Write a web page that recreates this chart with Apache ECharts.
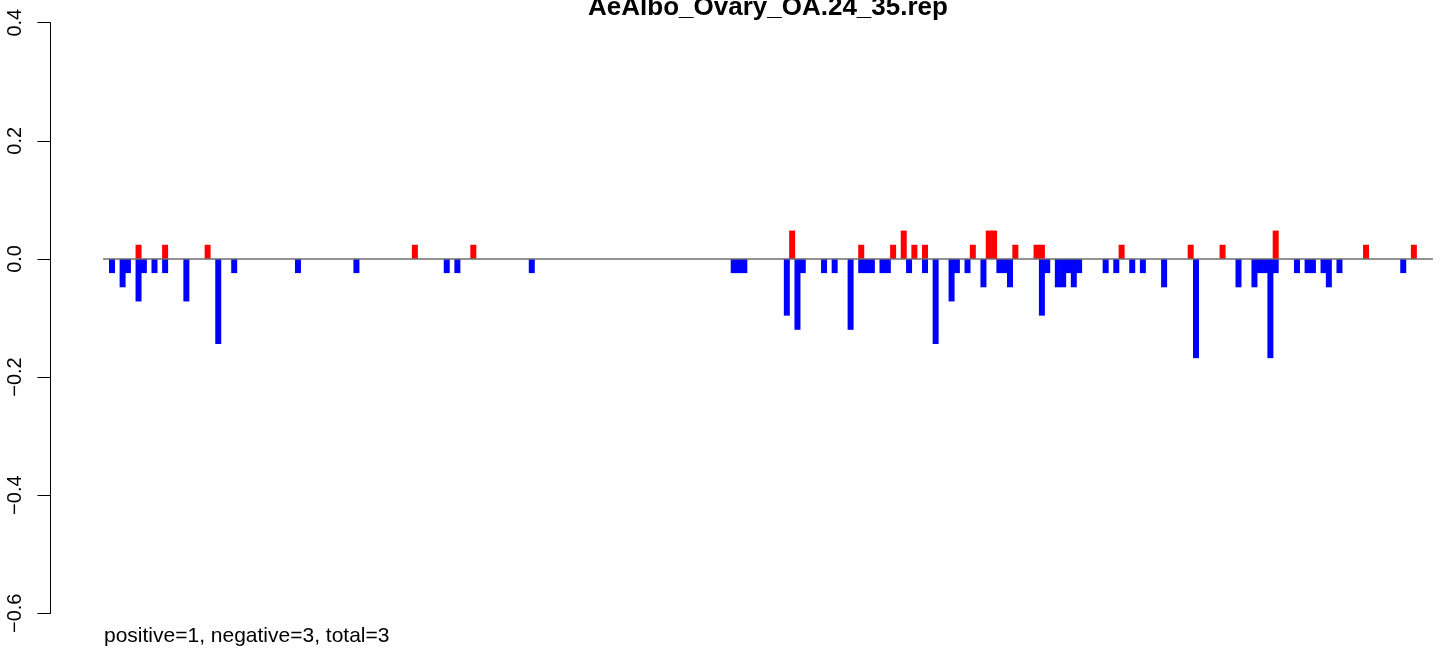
<!DOCTYPE html>
<html>
<head>
<meta charset="utf-8">
<script src="https://cdn.jsdelivr.net/npm/echarts@6/dist/echarts.min.js"></script>
<style>
html,body{margin:0;padding:0;background:#fff;}
#chart{width:1441px;height:649px;}
</style>
</head>
<body>
<div id="chart"></div>
<script>
// ---- data ----
var chartTitle = 'AeAlbo_Ovary_OA.24_35.rep';
var footnote = 'positive=1, negative=3, total=3';

var posPositions = [6, 11, 19, 58, 69, 129, 142, 148, 150, 152, 154, 163, 166, 167, 171, 175, 176, 191, 204, 210, 220, 237, 246];
var posValues    = [0.024, 0.024, 0.024, 0.024, 0.024, 0.048, 0.024, 0.024, 0.048, 0.024, 0.024, 0.024, 0.048, 0.048, 0.024, 0.024, 0.024, 0.024, 0.024, 0.024, 0.048, 0.024, 0.024];

var negPositions = [1, 3, 4, 6, 7, 9, 11, 15, 21, 24, 36, 47, 64, 66, 80,
  118, 119, 120, 128, 130, 131, 135, 137, 140, 142, 143, 144, 146, 147, 151, 154, 156,
  159, 160, 162, 165, 168, 169, 170, 176, 177, 179, 180, 181, 182, 183, 188, 190, 193, 195, 199,
  205, 213, 216, 217, 218, 219, 220, 224, 226, 227, 229, 230, 232, 244];
var negValues = [-0.024, -0.048, -0.024, -0.072, -0.024, -0.024, -0.024, -0.072, -0.144, -0.024, -0.024, -0.024, -0.024, -0.024, -0.024,
  -0.024, -0.024, -0.024, -0.096, -0.12, -0.024, -0.024, -0.024, -0.12, -0.024, -0.024, -0.024, -0.024, -0.024, -0.024, -0.024, -0.144,
  -0.072, -0.024, -0.024, -0.048, -0.024, -0.024, -0.048, -0.096, -0.024, -0.048, -0.048, -0.024, -0.048, -0.024, -0.024, -0.024, -0.024, -0.024, -0.048,
  -0.168, -0.048, -0.048, -0.024, -0.024, -0.168, -0.024, -0.024, -0.024, -0.024, -0.024, -0.048, -0.024, -0.024];

var yTickValues = [-0.6, -0.4, -0.2, 0.0, 0.2, 0.4];
var yTickLabels = ['\u22120.6', '\u22120.4', '\u22120.2', '0.0', '0.2', '0.4'];

// ---- build ----
function pairs(xs, ys) { return xs.map(function (x, i) { return [x, ys[i]]; }); }

var chart = echarts.init(document.getElementById('chart'), null, { renderer: 'canvas' });
var font = "'Liberation Sans', Arial, Helvetica, sans-serif";

chart.setOption({
  animation: false,
  backgroundColor: '#ffffff',
  grid: { left: 103, right: 8, top: 22.7, bottom: 35.7, containLabel: false },
  xAxis: {
    type: 'value', min: -0.69, max: 249.6, show: false
  },
  yAxis: {
    type: 'value', min: -0.6, max: 0.4, interval: 0.2, offset: 52.5, position: 'left',
    axisLine: { show: true, onZero: false, lineStyle: { color: '#000', width: 1 } },
    axisTick: { show: true, length: 13, lineStyle: { color: '#000', width: 1 } },
    splitLine: { show: false },
    axisLabel: {
      rotate: 90, margin: 25, color: '#000', fontSize: 20, fontFamily: font,
      formatter: function (v) {
        var i = yTickValues.findIndex(function (t) { return Math.abs(t - v) < 1e-9; });
        return i >= 0 ? yTickLabels[i] : '';
      }
    }
  },
  series: [
    {
      type: 'bar', name: 'negative', data: pairs(negPositions, negValues),
      barWidth: 6, barGap: '-100%',
      itemStyle: { color: '#0000FF' },
      markLine: {
        silent: true, symbol: 'none', label: { show: false },
        lineStyle: { color: '#6e6e6e', width: 1.5, type: 'solid' },
        data: [{ yAxis: 0 }]
      }
    },
    {
      type: 'bar', name: 'positive', data: pairs(posPositions, posValues),
      barWidth: 6, barGap: '-100%',
      itemStyle: { color: '#FF0000' }
    }
  ],
  graphic: [
    {
      type: 'text', x: 768, y: 7.5,
      style: { text: chartTitle, font: "bold 26px " + font, fill: '#000', textAlign: 'center', textVerticalAlign: 'middle' }
    },
    {
      type: 'text', x: 104, y: 636,
      style: { text: footnote, font: "21px " + font, fill: '#000', textAlign: 'left', textVerticalAlign: 'middle' }
    }
  ]
});
</script>
</body>
</html>
